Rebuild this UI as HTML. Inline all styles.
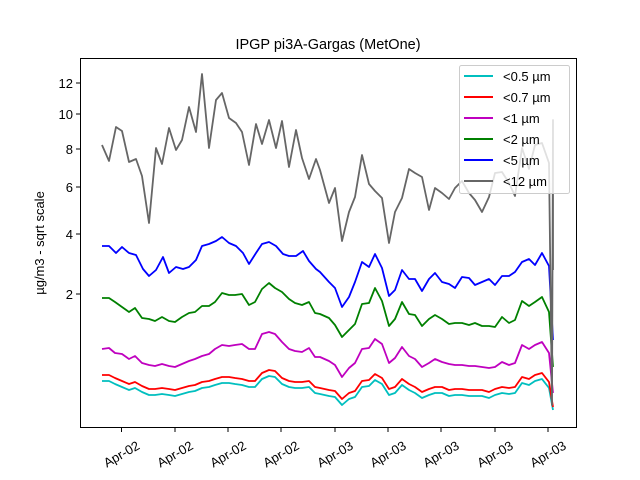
<!DOCTYPE html>
<html><head><meta charset="utf-8"><style>
html,body{margin:0;padding:0;background:#fff;}
svg{display:block;font-family:"Liberation Sans","DejaVu Sans",sans-serif;}
</style></head><body>
<svg width="640" height="480" viewBox="0 0 640 480" xmlns="http://www.w3.org/2000/svg">
<rect width="640" height="480" fill="#fff"/>
<text x="328" y="49" font-size="14.5" text-anchor="middle" fill="#000">IPGP pi3A-Gargas (MetOne)</text>
<g fill="none" stroke-width="1.8" stroke-linejoin="round">
<polyline stroke="#00bfbf" transform="translate(0,6)" points="102,375 109,375 115,378 122,381 129,384 135,382 142,386 149,389 155,389 162,388 169,389 175,390 182,388 189,386 195,385 202,382 209,381 215,379 222,377 229,377 235,378 242,379 249,381 255,381 262,373 269,370 275,371 282,378 289,381 295,382 302,382 309,381 315,387 320,388 329,390 335,391 342,399 349,393 355,391 362,381 369,380 375,374 382,378 389,389 395,387 402,379 409,384 415,387 422,392 429,389 435,387 442,387 449,390 455,389 462,389 469,390 475,390 482,390 489,392 495,389 502,387 509,388 515,387 522,377 529,379 535,375 542,373 549,382 553,404"/>
<polyline stroke="#ff0000" points="102,375 109,375 115,378 122,381 129,384 135,382 142,386 149,389 155,389 162,388 169,389 175,390 182,388 189,386 195,385 202,382 209,381 215,379 222,377 229,377 235,378 242,379 249,381 255,381 262,373 269,370 275,371 282,378 289,381 295,382 302,382 309,381 315,387 320,388 329,390 335,391 342,399 349,393 355,391 362,381 369,380 375,374 382,378 389,389 395,387 402,379 409,384 415,387 422,392 429,389 435,387 442,387 449,390 455,389 462,389 469,390 475,390 482,390 489,392 495,389 502,387 509,388 515,387 522,377 529,379 535,375 542,373 549,382 553,407"/>
<polyline stroke="#bf00bf" points="102,349 109,348 115,353 122,354 129,359 135,356 142,363 149,365 155,366 162,364 169,366 175,367 182,364 189,361 195,359 202,356 209,354 215,349 222,345 229,346 235,345 242,344 249,349 255,349 262,334 269,332 275,334 282,342 289,349 295,351 302,352 309,348 315,357 320,357 329,361 335,365 342,377 349,368 355,363 362,349 369,348 375,339 382,344 389,363 395,358 402,347 409,356 415,359 422,367 429,363 435,359 442,362 449,364 455,365 462,365 469,366 475,366 482,367 489,368 495,367 502,362 509,365 515,363 522,345 529,349 535,345 542,342 549,353 553,393"/>
<polyline stroke="#008000" points="102,298 109,298 115,302 122,307 129,312 135,308 142,318 149,319 155,321 162,317 169,321 175,322 182,317 189,313 195,312 202,306 209,306 215,302 222,293 229,295 235,295 242,294 249,305 255,302 262,289 269,283 275,288 282,292 289,299 295,303 302,305 309,302 315,313 320,314 329,318 335,325 342,337 349,330 355,324 362,304 369,303 375,288 382,301 389,326 395,319 402,302 409,314 415,315 422,326 429,319 435,315 442,319 449,324 455,323 462,323 469,325 475,323 482,326 489,326 495,327 502,317 509,323 515,320 522,301 529,306 535,302 542,297 549,312 553,367"/>
<polyline stroke="#0000ff" points="102,246 109,246 116,253 122,247 129,253 136,255 143,269 149,276 156,270 163,257 169,273 176,267 183,269 189,267 196,260 202,246 209,244 216,241 222,237 229,243 236,246 243,253 249,264 256,253 262,244 269,242 276,246 283,254 289,256 296,256 303,251 309,261 316,269 320,272 329,282 335,288 342,307 349,297 355,282 362,262 369,267 375,254 382,268 389,296 395,290 402,270 409,279 415,279 422,291 429,279 435,273 442,282 449,284 455,288 462,277 469,278 475,285 482,282 489,279 495,285 502,276 509,276 515,272 522,262 529,259 535,265 542,253 549,266 553,340"/>
<polyline stroke="#666666" points="102,145 109,161 116,127 122,131 129,162 136,159 142,176 149,223 156,148 162,164 169,128 176,150 182,140 189,107 196,132 202,74 209,148 216,100 222,93 229,118 236,123 242,132 249,165 256,124 262,144 269,120 276,148 282,121 289,167 296,130 302,158 309,179 316,159 320,170 329,203 335,188 342,241 349,212 355,197 362,155 369,184 375,191 382,198 389,243 395,212 402,198 409,169 415,173 422,177 429,210 435,188 442,193 449,199 455,188 462,181 469,193 475,200 482,212 489,197 495,173 502,172 509,183 515,196 522,148 529,169 535,145 542,143 549,163 552,405 553,120 553,270"/>
</g>
<rect x="80.5" y="58.5" width="496" height="369" fill="none" stroke="#000" stroke-width="1"/>
<g stroke="#000" stroke-width="1">
<line x1="76" y1="83" x2="80" y2="83"/><line x1="76" y1="114" x2="80" y2="114"/><line x1="76" y1="149" x2="80" y2="149"/><line x1="76" y1="187" x2="80" y2="187"/><line x1="76" y1="234" x2="80" y2="234"/><line x1="76" y1="294" x2="80" y2="294"/>
<line x1="121.5" y1="428" x2="121.5" y2="432"/><line x1="175" y1="428" x2="175" y2="432"/><line x1="228" y1="428" x2="228" y2="432"/><line x1="281" y1="428" x2="281" y2="432"/><line x1="335" y1="428" x2="335" y2="432"/><line x1="388" y1="428" x2="388" y2="432"/><line x1="441" y1="428" x2="441" y2="432"/><line x1="495" y1="428" x2="495" y2="432"/><line x1="548" y1="428" x2="548" y2="432"/>
</g>
<g font-size="13" text-anchor="end" fill="#000">
<text x="73" y="88">12</text><text x="73" y="119">10</text><text x="73" y="154">8</text><text x="73" y="192">6</text><text x="73" y="239">4</text><text x="73" y="299">2</text>
</g>
<g font-size="13" text-anchor="middle" fill="#000">
<text transform="translate(121.5,454) rotate(-30)" dy="0.35em">Apr-02</text>
<text transform="translate(175,454) rotate(-30)" dy="0.35em">Apr-02</text>
<text transform="translate(228,454) rotate(-30)" dy="0.35em">Apr-02</text>
<text transform="translate(281,454) rotate(-30)" dy="0.35em">Apr-02</text>
<text transform="translate(335,454) rotate(-30)" dy="0.35em">Apr-03</text>
<text transform="translate(388,454) rotate(-30)" dy="0.35em">Apr-03</text>
<text transform="translate(441,454) rotate(-30)" dy="0.35em">Apr-03</text>
<text transform="translate(495,454) rotate(-30)" dy="0.35em">Apr-03</text>
<text transform="translate(548,454) rotate(-30)" dy="0.35em">Apr-03</text>
</g>
<text transform="translate(44,243) rotate(-90)" font-size="13" text-anchor="middle" fill="#000">µg/m3 - sqrt scale</text>
<rect x="459.5" y="65.5" width="110" height="128" rx="2" fill="#fff" fill-opacity="0.8" stroke="#ccc" stroke-width="1"/>
<g stroke-width="2">
<line x1="464" y1="76" x2="493" y2="76" stroke="#00bfbf"/>
<line x1="464" y1="97" x2="493" y2="97" stroke="#ff0000"/>
<line x1="464" y1="118" x2="493" y2="118" stroke="#bf00bf"/>
<line x1="464" y1="139" x2="493" y2="139" stroke="#008000"/>
<line x1="464" y1="160" x2="493" y2="160" stroke="#0000ff"/>
<line x1="464" y1="181" x2="493" y2="181" stroke="#666666"/>
</g>
<g font-size="13" fill="#000">
<text x="503" y="81">&lt;0.5 µm</text>
<text x="503" y="102">&lt;0.7 µm</text>
<text x="503" y="123">&lt;1 µm</text>
<text x="503" y="144">&lt;2 µm</text>
<text x="503" y="165">&lt;5 µm</text>
<text x="503" y="186">&lt;12 µm</text>
</g>
</svg>
</body></html>
